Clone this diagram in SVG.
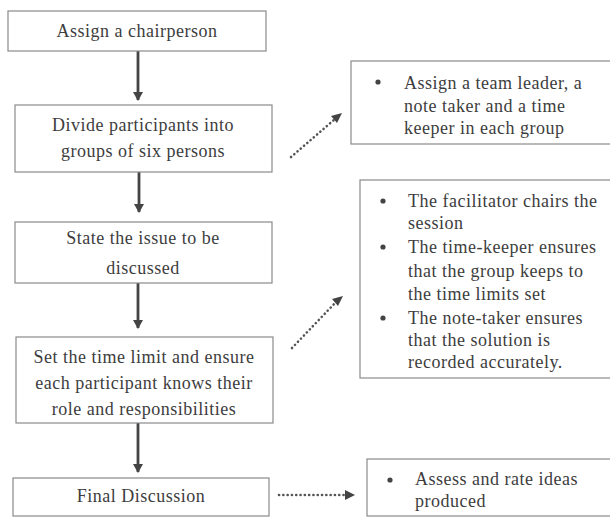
<svg xmlns="http://www.w3.org/2000/svg" width="610" height="517" viewBox="0 0 610 517">
<defs>
<style>
.box{fill:#fff;stroke:#8a8a8a;stroke-width:1.2}
.t{font-family:"Liberation Serif","Times New Roman",serif;font-size:18px;letter-spacing:0.5px;fill:#3d3d3d}
.c{text-anchor:middle}
.solid{stroke:#444;stroke-width:2.8;fill:none}
.dot{stroke:#555;stroke-width:2.6;stroke-linecap:round;stroke-dasharray:0.1 4.2;fill:none}
.bul{fill:#444}
</style>
<marker id="ah" markerUnits="userSpaceOnUse" markerWidth="12" markerHeight="12" refX="8" refY="5" orient="auto">
<path d="M0,0 L9,5 L0,10 Z" fill="#444"/>
</marker>
</defs>
<rect width="610" height="517" fill="#fff"/>
<g id="connectors">
<line class="solid" x1="138" y1="51" x2="138" y2="100" marker-end="url(#ah)"/>
<line class="solid" x1="139" y1="172" x2="139" y2="212" marker-end="url(#ah)"/>
<line class="solid" x1="138" y1="283" x2="138" y2="328" marker-end="url(#ah)"/>
<line class="solid" x1="138" y1="423" x2="138" y2="472" marker-end="url(#ah)"/>
<line class="dot" x1="291" y1="157" x2="335" y2="119"/>
<path d="M342,113 L331,116 L337,123 Z" fill="#444"/>
<line class="dot" x1="292" y1="348" x2="336" y2="302"/>
<path d="M343,296 L332,299 L338,306 Z" fill="#444"/>
<line class="dot" x1="279" y1="495" x2="346" y2="495"/>
<path d="M355,495 L345,490 L345,500 Z" fill="#444"/>
</g>
<g id="n1">
<rect class="box" x="8" y="11" width="258" height="40"/>
<text class="t c" x="137" y="37">Assign a chairperson</text>
</g>
<g id="n2">
<rect class="box" x="15" y="105" width="257" height="67"/>
<text class="t c" x="143" y="131">Divide participants into</text>
<text class="t c" x="143" y="157">groups of six persons</text>
</g>
<g id="n3">
<rect class="box" x="15" y="222" width="257" height="61"/>
<text class="t c" x="143" y="244">State the issue to be</text>
<text class="t c" x="143" y="274">discussed</text>
</g>
<g id="n4">
<rect class="box" x="16" y="337" width="257" height="86"/>
<text class="t c" x="144" y="363">Set the time limit and ensure</text>
<text class="t c" x="144" y="389">each participant knows their</text>
<text class="t c" x="144" y="415">role and responsibilities</text>
</g>
<g id="n5">
<rect class="box" x="13" y="478" width="256" height="38"/>
<text class="t c" x="141" y="502">Final Discussion</text>
</g>
<g id="nA">
<rect class="box" x="351" y="61" width="264" height="83"/>
<circle class="bul" cx="378" cy="82" r="2.6"/>
<text class="t" x="404" y="89">Assign a team leader, a</text>
<text class="t" x="404" y="112">note taker and a time</text>
<text class="t" x="404" y="134">keeper in each group</text>
</g>
<g id="nB">
<rect class="box" x="360" y="180" width="255" height="198"/>
<circle class="bul" cx="383" cy="201" r="2.6"/>
<text class="t" x="408" y="207">The facilitator chairs the</text>
<text class="t" x="408" y="229">session</text>
<circle class="bul" cx="383" cy="247" r="2.6"/>
<text class="t" x="408" y="253">The time-keeper ensures</text>
<text class="t" x="408" y="277">that the group keeps to</text>
<text class="t" x="408" y="300">the time limits set</text>
<circle class="bul" cx="383" cy="318" r="2.6"/>
<text class="t" x="408" y="324">The note-taker ensures</text>
<text class="t" x="408" y="346">that the solution is</text>
<text class="t" x="408" y="368">recorded accurately.</text>
</g>
<g id="nC">
<rect class="box" x="367" y="459" width="248" height="57"/>
<circle class="bul" cx="390" cy="480" r="2.6"/>
<text class="t" x="415" y="485">Assess and rate ideas</text>
<text class="t" x="415" y="507">produced</text>
</g>
</svg>
